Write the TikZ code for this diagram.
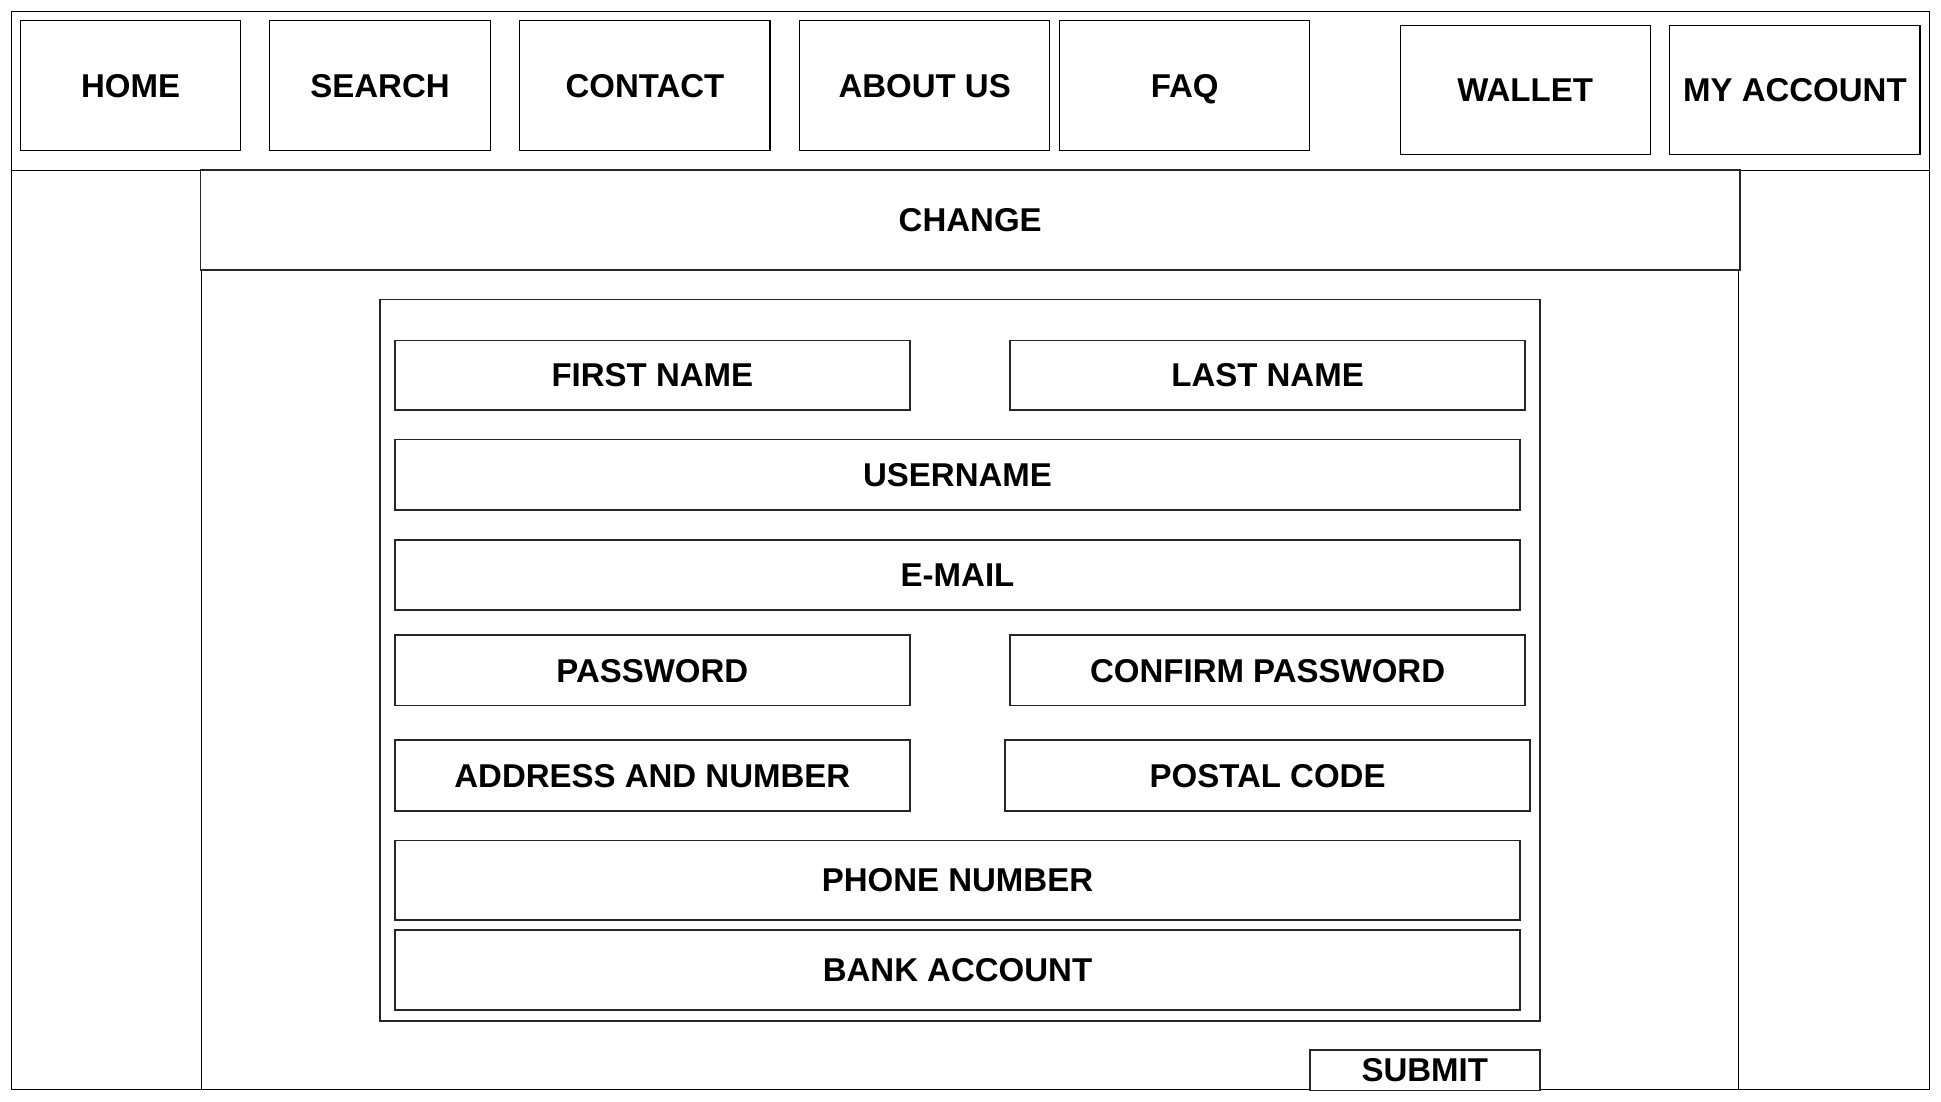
\documentclass[tikz,border=0pt]{standalone}
\usepackage{fontspec}
\setmainfont{Liberation Sans}
\usepackage{tikz}
\usetikzlibrary{positioning}
\tikzset{
	wh/.style 2 args={minimum width=#1*0.619pt, minimum height=#2*0.619pt},
	navbox/.style={draw, line width=0.55pt, inner sep=0pt, text height=11.8pt, text depth=0pt, font=\fontsize{16.5}{19}\selectfont\bfseries},
	formbox/.style={draw=black!85, line width=0.9pt, fill=white, inner sep=0pt, text height=11.8pt, text depth=0pt, font=\fontsize{16.5}{19}\selectfont\bfseries},
	thinline/.style={draw, line width=0.5pt}
}
\begin{document}
\begin{tikzpicture}[x=0.619pt, y=-0.619pt]
	\useasboundingbox (0,0) rectangle (1568,890);
	% page frame and menu bar
	\node (frame) [thinline, wh={1550}{871}] at (784,444.5) {};
	\coordinate (navsep) at (9,137.5);
	\draw [line width=0.5pt] (navsep) -- (navsep -| frame.east);
	\node (home) [navbox, wh={177.5}{105}] at (105.5,69) {HOME};
	\node (search) [navbox, wh={178}{105}] at (307,69) {SEARCH};
	\node (contact) [navbox, wh={202}{105}] at (521,69) {CONTACT};
	\node (about) [navbox, wh={202}{105}] at (747,69) {ABOUT US};
	\node (faq) [navbox, wh={202}{105}] at (957,69) {FAQ};
	\node (wallet) [navbox, wh={202}{104.5}] at (1232,72.75) {WALLET};
	\node (account) [navbox, wh={202}{104.5}] at (1450,72.75) {MY ACCOUNT};
	% content column
	\node (content) [thinline, wh={1241}{662}] at (783.5,549) {};
	\node (change) [formbox, wh={1243.5}{80.5}] at (783.75,177.75) {CHANGE};
	\node (form) [formbox, wh={937}{582.5}] at (775.5,533.25) {};
	\node (firstname) [formbox, wh={416}{56}] at (527,303) {FIRST NAME};
	\node (lastname) [formbox, wh={416}{56}] at (1024,303) {LAST NAME};
	\node (username) [formbox, wh={909}{57}] at (773.5,383.5) {USERNAME};
	\node (email) [formbox, wh={909}{57}] at (773.5,464.5) {E-MAIL};
	\node (password) [formbox, wh={416}{57}] at (527,541.5) {PASSWORD};
	\node (confirm) [formbox, wh={416}{57}] at (1024,541.5) {CONFIRM PASSWORD};
	\node (address) [formbox, wh={416}{57}] at (527,626.5) {ADDRESS AND NUMBER};
	\node (postal) [formbox, wh={424}{57}] at (1024,626.5) {POSTAL CODE};
	\node (phone) [formbox, wh={909}{64}] at (773.5,711) {PHONE NUMBER};
	\node (bank) [formbox, wh={909}{65}] at (773.5,783.5) {BANK ACCOUNT};
	\node (submit) [formbox, wh={186}{33}] at (1151,864.5) {SUBMIT};
\end{tikzpicture}
\end{document}
